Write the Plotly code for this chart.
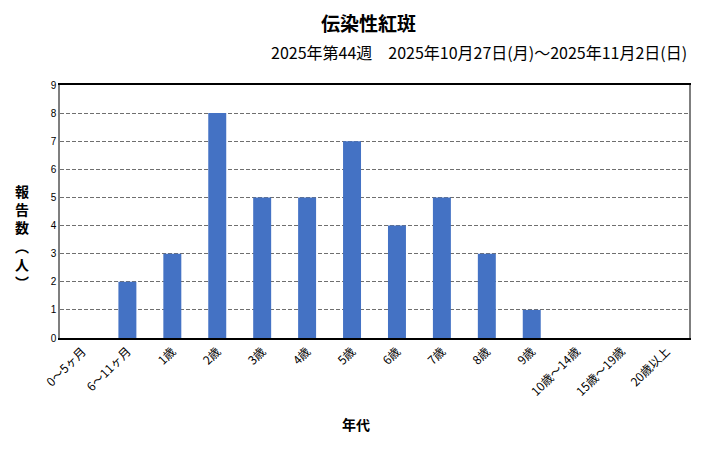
import plotly.graph_objects as go

age_groups = ["0～5ヶ月", "6～11ヶ月", "1歳", "2歳", "3歳", "4歳", "5歳", "6歳", "7歳", "8歳", "9歳",
              "10歳～14歳", "15歳～19歳", "20歳以上"]
reports = [0, 2, 3, 8, 5, 5, 7, 4, 5, 3, 1, 0, 0, 0]

title = "伝染性紅斑"
subtitle = "2025年第44週　2025年10月27日(月)～2025年11月2日(日)"
y_title = ["報", "告", "数", "︵", "人", "︶"]

font = "Noto Sans CJK JP"

fig = go.Figure(go.Bar(x=age_groups, y=reports, marker={"color": "#4472C4", "line": {"width": 0}}))

# page body has an 8px margin, so the figure is a bit smaller than the window
fig.update_layout(
    width=712, height=466,
    margin={"l": 52, "r": 31, "t": 77, "b": 136},
    plot_bgcolor="white", paper_bgcolor="white",
    font={"family": font, "color": "#000000"},
    bargap=0.6,
    showlegend=False,
)
fig.update_xaxes(
    tickangle=-45, tickfont={"size": 12}, showline=True, linecolor="#000000", linewidth=1.5,
    mirror=True, ticks="", showgrid=False,
)
fig.update_yaxes(
    range=[0, 9], dtick=1, tickfont={"size": 10, "family": "Liberation Sans"},
    showline=True, linecolor="#7f7f7f", linewidth=1.5, mirror=True,
    gridcolor="#6f6f6f", griddash="4px,2px", gridwidth=1, zeroline=False, ticks="",
)

fig.add_annotation(text=f"<b>{title}</b>", x=0.49, y=1, xref="paper", yref="paper",
                   xanchor="center", yanchor="middle", yshift=63, showarrow=False, font={"size": 19})
fig.add_annotation(text=subtitle, x=1.0, y=1, xref="paper", yref="paper",
                   xanchor="right", yanchor="middle", yshift=33, showarrow=False, font={"size": 16})
fig.add_annotation(text="<b>" + "<br>".join(y_title) + "</b>", x=0, y=0.4, xref="paper", yref="paper",
                   xanchor="center", yanchor="middle", xshift=-38, showarrow=False,
                   font={"size": 14}, align="center")
fig.add_annotation(text="<b>年代</b>", x=0.47, y=0, xref="paper", yref="paper",
                   xanchor="center", yanchor="middle", yshift=-86, showarrow=False, font={"size": 14})

fig.write_html("out.html")
